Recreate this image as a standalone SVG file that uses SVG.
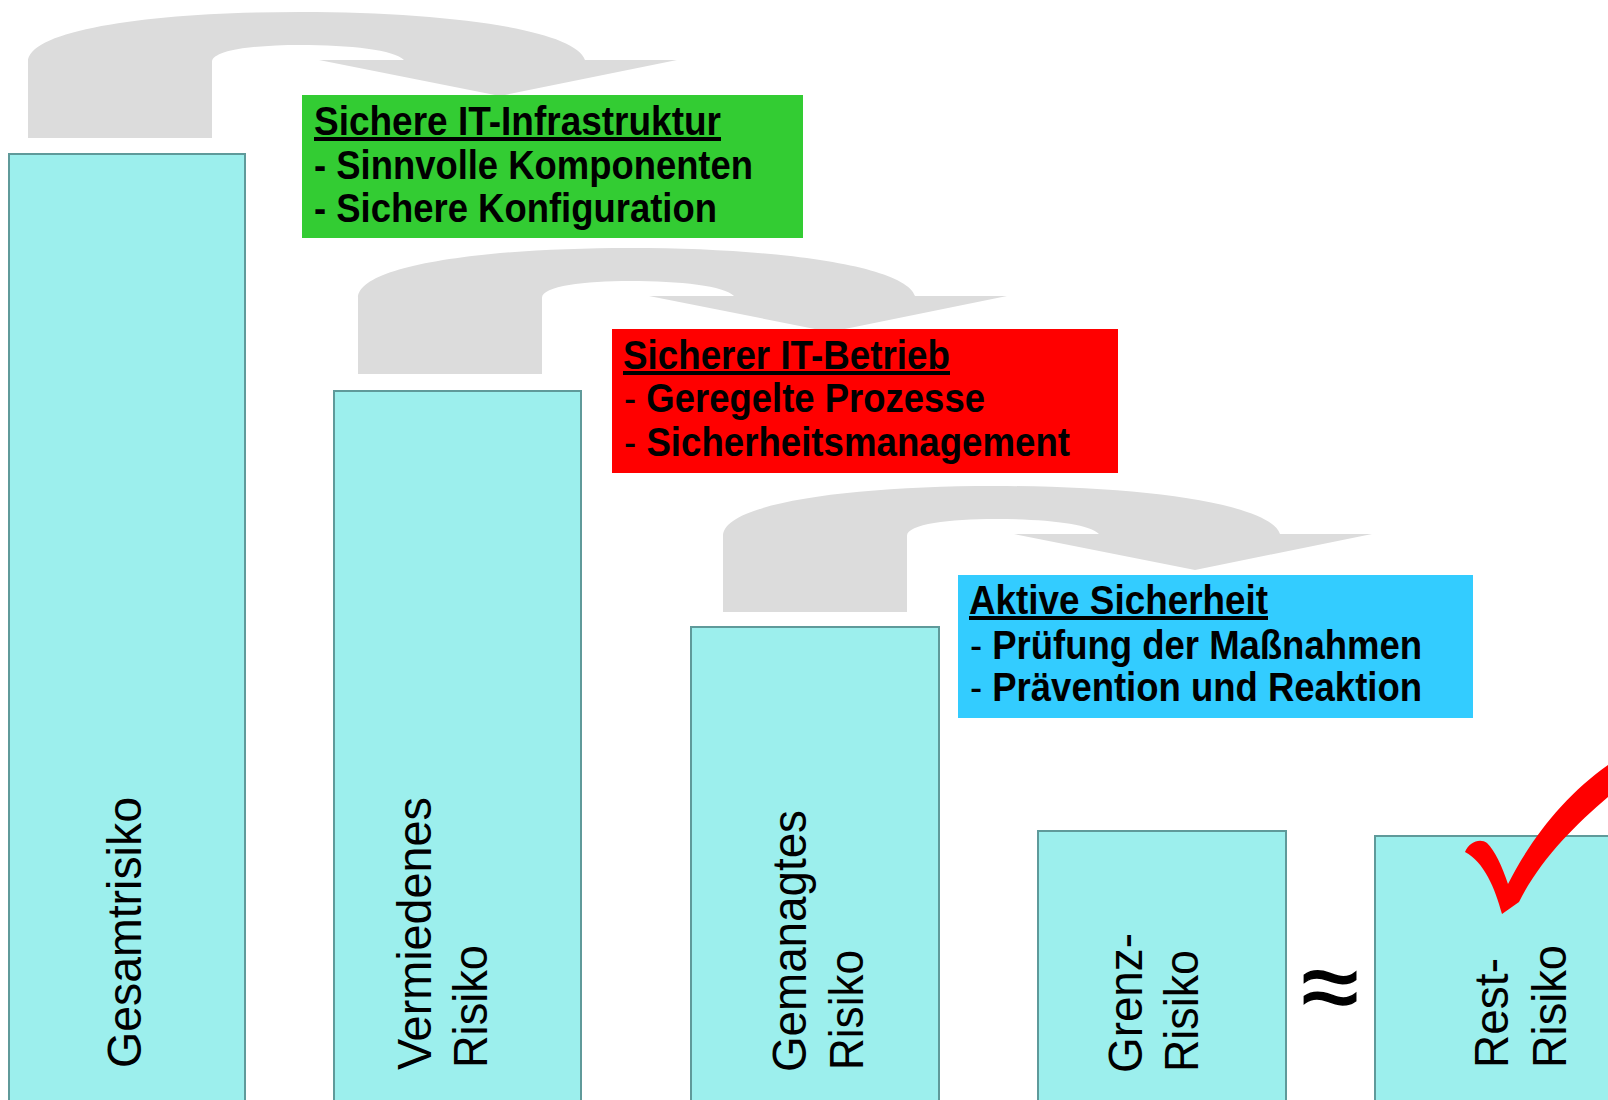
<svg xmlns="http://www.w3.org/2000/svg" width="1608" height="1100" viewBox="0 0 1608 1100">
  <style>
    .bar { fill: #9cefed; stroke: #5f9a9a; stroke-width: 2; }
    .flow { fill: #dcdcdc; }
    .box-text { font-family: "Liberation Sans", Arial, sans-serif; font-size: 40px; font-weight: bold; fill: #000; }
    .thin { font-weight: normal; }
    .head { text-decoration: underline; }
    .bar-text { font-family: "Liberation Sans", Arial, sans-serif; font-size: 48px; fill: #000; }
    .approx { font-family: "Liberation Sans", Arial, sans-serif; font-size: 104px; fill: #000; stroke: #000; stroke-width: 1.5; }
  </style>
  <defs>
    <!-- curved gray arrow: vertical leg, overhead arc, downward arrowhead -->
    <path id="curve-arrow" d="M28,138 L28,62 C28,30 150,12 300,12 C450,12 575,30 585,60 L677,60 L500,96 L319,60 L404,60 C395,50 350,45 300,45 C255,45 212,50 212,62 L212,138 Z"/>
  </defs>

  <rect width="1608" height="1100" fill="#ffffff"/>

  <!-- connectors -->
  <g id="connectors" class="flow">
    <use href="#curve-arrow"/>
    <use href="#curve-arrow" transform="translate(330,236)"/>
    <use href="#curve-arrow" transform="translate(695,474)"/>
  </g>

  <!-- risk bars -->
  <g id="bar-gesamt">
    <rect class="bar" x="9" y="154" width="236" height="960"/>
    <text class="bar-text" transform="translate(141,1068) rotate(-90)" textLength="271" lengthAdjust="spacingAndGlyphs">Gesamtrisiko</text>
  </g>
  <g id="bar-vermieden">
    <rect class="bar" x="334" y="391" width="247" height="720"/>
    <text class="bar-text" transform="translate(431,1070) rotate(-90)" textLength="273" lengthAdjust="spacingAndGlyphs">Vermiedenes</text>
    <text class="bar-text" transform="translate(487,1068) rotate(-90)" textLength="123" lengthAdjust="spacingAndGlyphs">Risiko</text>
  </g>
  <g id="bar-gemanagt">
    <rect class="bar" x="691" y="627" width="248" height="480"/>
    <text class="bar-text" transform="translate(806,1072) rotate(-90)" textLength="262" lengthAdjust="spacingAndGlyphs">Gemanagtes</text>
    <text class="bar-text" transform="translate(863,1070) rotate(-90)" textLength="120" lengthAdjust="spacingAndGlyphs">Risiko</text>
  </g>
  <g id="bar-grenz">
    <rect class="bar" x="1038" y="831" width="248" height="280"/>
    <text class="bar-text" transform="translate(1142,1073) rotate(-90)" textLength="140" lengthAdjust="spacingAndGlyphs">Grenz-</text>
    <text class="bar-text" transform="translate(1198,1072) rotate(-90)" textLength="122" lengthAdjust="spacingAndGlyphs">Risiko</text>
  </g>
  <g id="approx">
    <text class="approx" x="1330" y="1022" text-anchor="middle">≈</text>
  </g>
  <g id="bar-rest">
    <rect class="bar" x="1375" y="836" width="260" height="280"/>
    <text class="bar-text" transform="translate(1508,1068) rotate(-90)" textLength="110" lengthAdjust="spacingAndGlyphs">Rest-</text>
    <text class="bar-text" transform="translate(1566,1068) rotate(-90)" textLength="123" lengthAdjust="spacingAndGlyphs">Risiko</text>
  </g>
  <g id="check">
    <path fill="#ff0000" d="M1465,852 C1469,842 1480,838 1487,843 C1495,851 1502,866 1508,884 C1530,840 1565,795 1608,765 L1608,797 C1575,825 1540,860 1519,902 L1502,914 C1495,888 1484,862 1465,852 Z"/>
  </g>

  <!-- measure boxes -->
  <g id="box-infrastruktur">
    <rect x="302" y="95" width="501" height="143" fill="#33cc33"/>
    <text class="box-text head" x="314" y="135" textLength="407" lengthAdjust="spacingAndGlyphs">Sichere IT-Infrastruktur</text>
    <text class="box-text" x="314" y="179" textLength="439" lengthAdjust="spacingAndGlyphs">- Sinnvolle Komponenten</text>
    <text class="box-text" x="314" y="222" textLength="403" lengthAdjust="spacingAndGlyphs">- Sichere Konfiguration</text>
  </g>
  <g id="box-betrieb">
    <rect x="612" y="329" width="506" height="144" fill="#ff0000"/>
    <text class="box-text head" x="623" y="369" textLength="327" lengthAdjust="spacingAndGlyphs">Sicherer IT-Betrieb</text>
    <text class="box-text" x="624" y="412" textLength="361" lengthAdjust="spacingAndGlyphs"><tspan class="thin">-</tspan> Geregelte Prozesse</text>
    <text class="box-text" x="624" y="456" textLength="446" lengthAdjust="spacingAndGlyphs"><tspan class="thin">-</tspan> Sicherheitsmanagement</text>
  </g>
  <g id="box-aktiv">
    <rect x="958" y="575" width="515" height="143" fill="#33ccff"/>
    <text class="box-text head" x="969" y="614" textLength="299" lengthAdjust="spacingAndGlyphs">Aktive Sicherheit</text>
    <text class="box-text" x="970" y="659" textLength="452" lengthAdjust="spacingAndGlyphs"><tspan class="thin">-</tspan> Prüfung der Maßnahmen</text>
    <text class="box-text" x="970" y="701" textLength="452" lengthAdjust="spacingAndGlyphs"><tspan class="thin">-</tspan> Prävention und Reaktion</text>
  </g>
</svg>
